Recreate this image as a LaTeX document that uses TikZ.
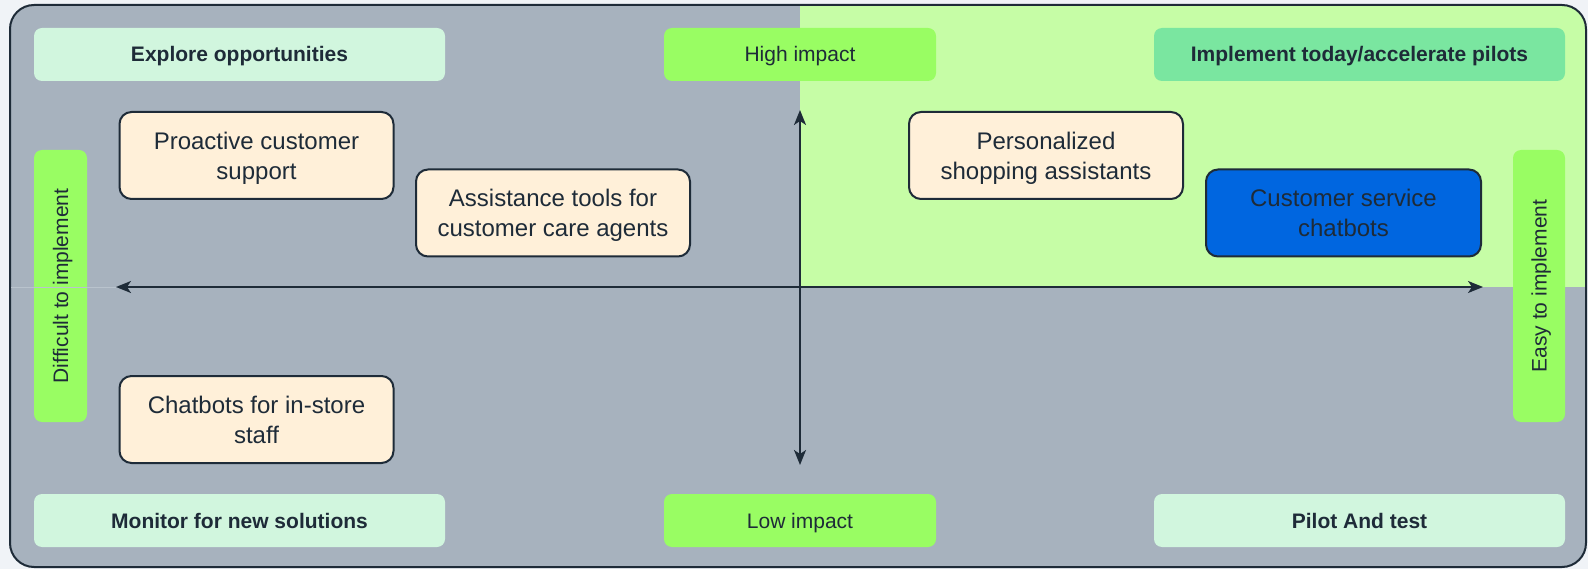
\documentclass[tikz,border=0pt]{standalone}
\usepackage{fontspec}
\setmainfont{Liberation Sans}
\usetikzlibrary{arrows.meta}
\definecolor{pagebg}{HTML}{F0F3F7}
\definecolor{quadgray}{HTML}{A7B2BE}
\definecolor{quadgreen}{HTML}{C6FDA6}
\definecolor{mint}{HTML}{D1F6DE}
\definecolor{brightgreen}{HTML}{99FD63}
\definecolor{midgreen}{HTML}{7AE6A0}
\definecolor{cream}{HTML}{FFF0D9}
\definecolor{cardblue}{HTML}{0066E0}
\definecolor{ink}{HTML}{1E2B38}
\definecolor{faint}{HTML}{B9C3CD}
\newcommand{\cardlines}[2]{\rule{0pt}{24pt}#1\\#2\rule[-6pt]{0pt}{6pt}}
\tikzset{
  lab/.style={rectangle, rounded corners=8pt, draw=none, text=ink, inner sep=0pt,
    text height=15pt, text depth=0pt,
    font=\fontsize{21}{25}\selectfont},
  boldlab/.style={lab, font=\fontsize{21}{25}\selectfont\bfseries},
  card/.style={rectangle, rounded corners=12pt, draw=ink, line width=2pt, fill=cream,
    text=ink, inner sep=0pt, align=center, minimum width=274pt, minimum height=87pt,
    font=\fontsize{24}{30}\selectfont},
  axis/.style={draw=ink, line width=2pt, {Stealth[length=15pt,width=12pt,inset=4pt]}-{Stealth[length=15pt,width=12pt,inset=4pt]}}
}
\begin{document}
\begin{tikzpicture}[x=1pt,y=-1pt]
\useasboundingbox (0,0) rectangle (1588,569);
\fill[pagebg] (0,0) rectangle (1588,569);
% frame and quadrants
\fill[quadgray, rounded corners=24pt] (10,5) rectangle (1586,567);
\begin{scope}
  \clip[rounded corners=24pt] (10,5) rectangle (1586,567);
  \fill[quadgreen] (800,5) rectangle (1588,287);
\end{scope}
\draw[ink, line width=2pt, rounded corners=24pt] (10,5) rectangle (1586,567);
% labels
\node[boldlab, fill=mint, minimum width=411pt, minimum height=53pt] (explore) at (239.5,54.5) {Explore opportunities};
\node[lab, fill=brightgreen, minimum width=272pt, minimum height=53pt] (high) at (800,54.5) {High impact};
\node[boldlab, fill=midgreen, minimum width=411pt, minimum height=53pt] (implement) at (1359.5,54.5) {Implement today/accelerate pilots};
\node[boldlab, fill=mint, minimum width=411pt, minimum height=53pt] (monitor) at (239.5,520.5) {Monitor for new solutions};
\node[lab, fill=brightgreen, minimum width=272pt, minimum height=53pt] (low) at (800,520.5) {Low impact};
\node[boldlab, fill=mint, minimum width=411pt, minimum height=53pt] (pilot) at (1359.5,520.5) {Pilot And test};
\node[lab, fill=brightgreen, minimum width=272pt, minimum height=53pt, rotate=90] (difficult) at (60.5,286) {Difficult to implement};
\node[lab, fill=brightgreen, minimum width=272pt, minimum height=52pt, rotate=90] (easy) at (1539,286) {Easy to implement};
% axes
\coordinate (hl) at (116,287);
\coordinate (hr) at (1483,287);
\coordinate (vt) at (800,110);
\coordinate (vb) at (800,465);
\coordinate (fl) at (11,287);
\draw[faint, line width=0.8pt] (fl) -- (hl);
\draw[axis] (hl) -- (hr);
\draw[axis] (vt) -- (vb);
% cards
\node[card] (proactive) at (256.5,155.5) {\cardlines{Proactive customer}{support}};
\node[card] (assist) at (553,213) {\cardlines{Assistance tools for}{customer care agents}};
\node[card] (personal) at (1046,155.5) {\cardlines{Personalized}{shopping assistants}};
\node[card, fill=cardblue, minimum width=275pt] (cschat) at (1343.5,213) {\cardlines{Customer service}{chatbots}};
\node[card] (instore) at (256.5,419.5) {\cardlines{Chatbots for in-store}{staff}};
\end{tikzpicture}
\end{document}
